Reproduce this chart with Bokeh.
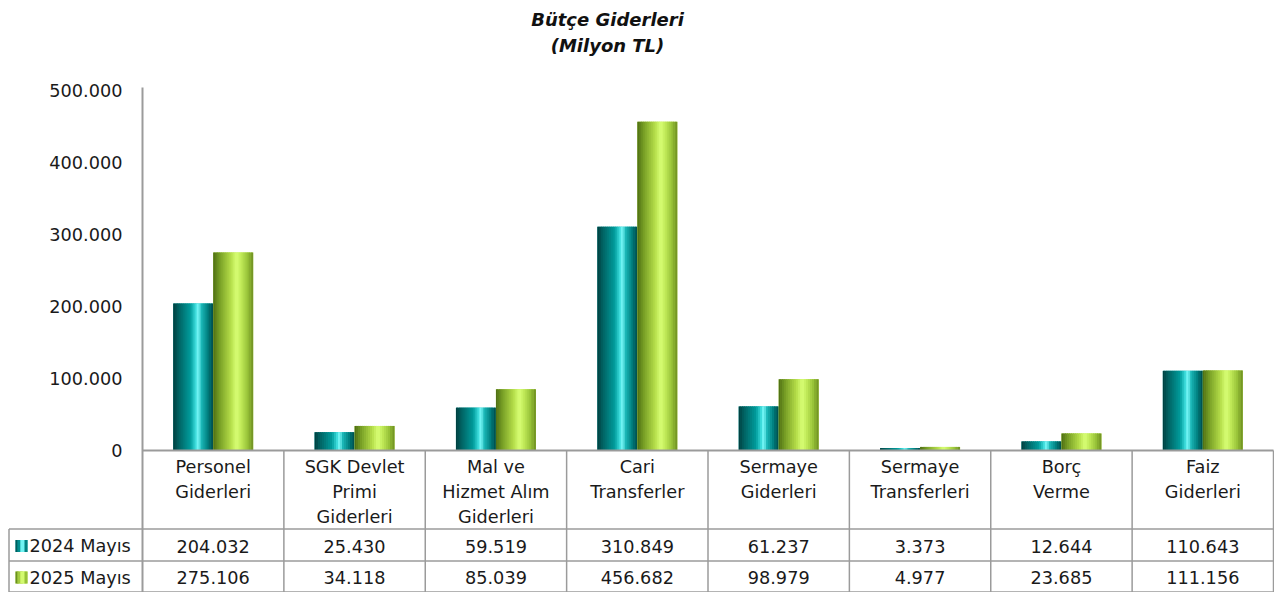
from bokeh.plotting import figure
from bokeh.models import Range1d
from bokeh.core.properties import value
from bokeh.embed import file_html
from bokeh.resources import INLINE

# ---- data ----
categories = ["Personel\nGiderleri", "SGK Devlet\nPrimi\nGiderleri", "Mal ve\nHizmet Alım\nGiderleri",
              "Cari\nTransferler", "Sermaye\nGiderleri", "Sermaye\nTransferleri", "Borç\nVerme", "Faiz\nGiderleri"]
series_names = ["2024 Mayıs", "2025 Mayıs"]
values_2024 = [204032, 25430, 59519, 310849, 61237, 3373, 12644, 110643]
values_2025 = [275106, 34118, 85039, 456682, 98979, 4977, 23685, 111156]
y_ticks = [0, 100000, 200000, 300000, 400000, 500000]
title_lines = ["Bütçe Giderleri", "(Milyon TL)"]

FONT = value("DejaVu Sans")
FS = "17.7px"
W, H = 1274, 592
X0 = 142.0             # pixel x of category axis start
CW = (W - 1 - X0) / 8  # pixels per category
Y0 = 450.0             # pixel y of value 0
K = 500000 / 360.0     # value per pixel

def fx(px):
    return (px - X0) / CW

def fy(py):
    return (Y0 - py) * K

p = figure(width=W, height=H, output_backend="svg", toolbar_location=None,
           x_range=Range1d(fx(0), fx(W)), y_range=Range1d(fy(H), fy(0)),
           x_axis_type=None, y_axis_type=None, min_border=0)
p.grid.visible = False
p.outline_line_color = None
p.background_fill_color = "white"

def fmt(v):
    return f"{v:,}".replace(",", ".")

def hex2rgb(h):
    h = h.lstrip("#")
    return tuple(int(h[i:i + 2], 16) for i in (0, 2, 4))

def grad(stops, t):
    for (t0, c0), (t1, c1) in zip(stops, stops[1:]):
        if t0 <= t <= t1:
            a = (t - t0) / (t1 - t0) if t1 > t0 else 0
            r0, g0, b0 = hex2rgb(c0)
            r1, g1, b1 = hex2rgb(c1)
            return "#%02x%02x%02x" % (round(r0 + (r1 - r0) * a), round(g0 + (g1 - g0) * a), round(b0 + (b1 - b0) * a))
    return stops[-1][1]

teal_stops = [(0, "#003b3b"), (0.15, "#006262"), (0.45, "#009c9c"), (0.58, "#3fdede"),
              (0.64, "#7ffafa"), (0.72, "#1cb8b8"), (0.88, "#007f7f"), (1, "#004848")]
green_stops = [(0, "#4b6a12"), (0.18, "#78a026"), (0.45, "#b3dc48"), (0.6, "#d8ff75"),
               (0.72, "#bfe857"), (0.88, "#97c238"), (1, "#6c8c20")]

bar_w = 40.0 / CW
N = 20
strip = bar_w / N
centers = [i + 0.5 for i in range(8)]

for vals, stops, off in [(values_2024, teal_stops, -bar_w / 2), (values_2025, green_stops, bar_w / 2)]:
    # base bar (avoids seams between strips)
    p.vbar(x=[c + off for c in centers], top=vals, bottom=0, width=bar_w,
           fill_color=grad(stops, 0.5), line_color=None)
    for k in range(N):
        t = (k + 0.5) / N
        xs = [c + off - bar_w / 2 + (k + 0.5) * strip for c in centers]
        col = grad(stops, t)
        w = strip * (1.0 if k in (0, N - 1) else 1.6)
        p.vbar(x=xs, top=vals, bottom=0, width=w, fill_color=col, line_color=None)

LINE = "#9b9b9b"
# axis lines
p.segment(x0=[0], y0=[fy(H)], x1=[0], y1=[fy(87)], line_color=LINE, line_width=2)
p.segment(x0=[0], y0=[0], x1=[8], y1=[0], line_color=LINE, line_width=2)

# y tick labels
p.text(x=[fx(122)] * len(y_ticks), y=y_ticks, text=[fmt(v) for v in y_ticks],
       text_align="right", text_baseline="middle", text_font=FONT,
       text_font_size=FS, text_color="#1a1a1a")

# title
p.text(x=[fx(607), fx(607)], y=[fy(19), fy(45)], text=title_lines,
       text_align="center", text_baseline="middle", text_font=FONT,
       text_font_size="18px", text_font_style="bold italic", text_color="#111111")

# table grid
HB, R1, R2 = 528.5, 560.5, 591.5
p.segment(x0=[i for i in range(1, 9)], y0=[0] * 8, x1=[i for i in range(1, 9)], y1=[fy(R2)] * 8,
          line_color=LINE, line_width=1.5)
p.segment(x0=[fx(8.5)] * 3, y0=[fy(HB), fy(R1), fy(R2)], x1=[8] * 3, y1=[fy(HB), fy(R1), fy(R2)],
          line_color=LINE, line_width=1.5)
p.segment(x0=[fx(8.5)], y0=[fy(HB)], x1=[fx(8.5)], y1=[fy(R2)], line_color=LINE, line_width=1.5)

# category labels
p.text(x=centers, y=[fy(456)] * 8, text=categories, text_align="center", text_baseline="top",
       text_font=FONT, text_font_size=FS, text_line_height=1.27, text_color="#1a1a1a")

# values rows
for vals, row_mid in [(values_2024, (HB + R1) / 2), (values_2025, (R1 + R2) / 2)]:
    p.text(x=centers, y=[fy(row_mid + 1)] * 8, text=[fmt(v) for v in vals], text_align="center",
           text_baseline="middle", text_font=FONT, text_font_size=FS, text_color="#1a1a1a")

# legend keys
for name, stops, row_mid in [(series_names[0], teal_stops, (HB + R1) / 2), (series_names[1], green_stops, (R1 + R2) / 2)]:
    p.rect(x=[fx(21)], y=[fy(row_mid + 1)], width=12 / CW, height=12 * K,
           fill_color=grad(stops, 0.5), line_color=None)
    n = 4
    for k in range(n):
        t = (k + 0.5) / n
        x_px = 15 + (k + 0.5) * 12 / n
        p.rect(x=[fx(x_px)], y=[fy(row_mid + 1)], width=12 / n / CW * (1.0 if k in (0, n - 1) else 1.8),
               height=12 * K, fill_color=grad(stops, t), line_color=None)
    p.text(x=[fx(29)], y=[fy(row_mid + 1)], text=[name], text_align="left", text_baseline="middle",
           text_font=FONT, text_font_size=FS, text_color="#1a1a1a")

open("out.html", "w").write(file_html(p, INLINE))
